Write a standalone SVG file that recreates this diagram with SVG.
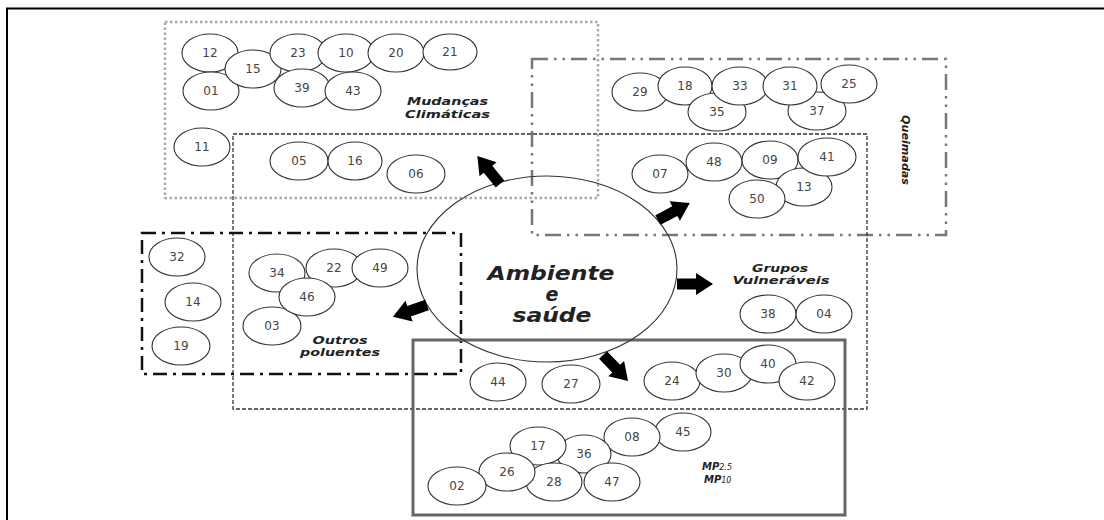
<svg xmlns="http://www.w3.org/2000/svg" width="1104" height="520" viewBox="0 0 1104 520">
<style>
.node ellipse{fill:#fff;stroke:#333;stroke-width:1.1}
.node text{font-family:"DejaVu Sans",Verdana,sans-serif;font-size:12px;fill:#444;text-anchor:middle;dominant-baseline:central}
.lbl{font-family:"DejaVu Sans",Verdana,sans-serif;font-weight:bold;font-style:italic;fill:#222}
.box{fill:none}
</style>
<defs>
<polygon id="arr" points="0,-5.5 19,-5.5 19,-11 36,0 19,11 19,5.5 0,5.5" fill="#000"/>
</defs>
<rect x="0" y="0" width="1104" height="520" fill="#fff"/>
<path d="M7 520 V8.5 H1104" fill="none" stroke="#000" stroke-width="2"/>

<g id="boxes">
<rect id="box-mudancas" class="box" x="165" y="22" width="433" height="176" stroke="#aaa" stroke-width="2.5" stroke-dasharray="2.5 2.5"/>
<rect id="box-queimadas" class="box" x="532" y="59" width="414" height="176" stroke="#777" stroke-width="2.5" stroke-dasharray="16 6 2.5 6 2.5 6"/>
<rect id="box-grupos" class="box" x="233" y="134" width="634" height="275" stroke="#333" stroke-width="1.3" stroke-dasharray="4 2"/>
<rect id="box-outros" class="box" x="142" y="233" width="319" height="141" stroke="#111" stroke-width="2.5" stroke-dasharray="14 6 3 6"/>
<rect id="box-mp" class="box" x="413" y="340" width="432" height="175" stroke="#666" stroke-width="3"/>
</g>

<g id="center">
<ellipse cx="547" cy="269" rx="130" ry="93" fill="none" stroke="#333" stroke-width="1.1"/>
<text class="lbl" x="551" y="280" font-size="19" text-anchor="middle" textLength="127" lengthAdjust="spacingAndGlyphs">Ambiente</text>
<text class="lbl" x="552" y="301" font-size="19" text-anchor="middle">e</text>
<text class="lbl" x="552" y="322" font-size="19" text-anchor="middle" textLength="79" lengthAdjust="spacingAndGlyphs">saúde</text>
</g>

<g id="labels">
<text class="lbl" x="407" y="105" font-size="11" textLength="81" lengthAdjust="spacingAndGlyphs">Mudanças</text>
<text class="lbl" x="405" y="118" font-size="11" textLength="85" lengthAdjust="spacingAndGlyphs">Climáticas</text>
<text class="lbl" font-size="10" text-anchor="middle" transform="translate(902,150) rotate(90)" textLength="70" lengthAdjust="spacingAndGlyphs">Queimadas</text>
<text class="lbl" x="780" y="272" font-size="10" text-anchor="middle" textLength="56" lengthAdjust="spacingAndGlyphs">Grupos</text>
<text class="lbl" x="781" y="284" font-size="10" text-anchor="middle" textLength="97" lengthAdjust="spacingAndGlyphs">Vulneráveis</text>
<text class="lbl" x="340" y="344" font-size="11" text-anchor="middle" textLength="55" lengthAdjust="spacingAndGlyphs">Outros</text>
<text class="lbl" x="340" y="356" font-size="11" text-anchor="middle" textLength="80" lengthAdjust="spacingAndGlyphs">poluentes</text>
<text class="lbl" x="702" y="470" font-size="10">MP<tspan font-size="8" font-weight="normal">2.5</tspan></text>
<text class="lbl" x="704" y="483" font-size="10">MP<tspan font-size="8" font-weight="normal">10</tspan></text>
</g>

<g id="connectors">
<use href="#arr" transform="translate(500,184) rotate(-129)"/>
<use href="#arr" transform="translate(658,220) rotate(-28)"/>
<use href="#arr" transform="translate(677,284)"/>
<use href="#arr" transform="translate(603,355) rotate(46)"/>
<use href="#arr" transform="translate(427,305) rotate(161)"/>
</g>

<g id="n12" class="node"><ellipse cx="210" cy="53" rx="28" ry="19"/><text x="210" y="53">12</text></g>
<g id="n01" class="node"><ellipse cx="211" cy="91" rx="28" ry="19"/><text x="211" y="91">01</text></g>
<g id="n15" class="node"><ellipse cx="253" cy="69" rx="28" ry="19"/><text x="253" y="69">15</text></g>
<g id="n23" class="node"><ellipse cx="298" cy="53" rx="28" ry="19"/><text x="298" y="53">23</text></g>
<g id="n10" class="node"><ellipse cx="346" cy="53" rx="28" ry="19"/><text x="346" y="53">10</text></g>
<g id="n20" class="node"><ellipse cx="396" cy="53" rx="28" ry="19"/><text x="396" y="53">20</text></g>
<g id="n21" class="node"><ellipse cx="450" cy="52" rx="27" ry="18"/><text x="450" y="52">21</text></g>
<g id="n39" class="node"><ellipse cx="302" cy="88" rx="28" ry="19"/><text x="302" y="88">39</text></g>
<g id="n43" class="node"><ellipse cx="353" cy="91" rx="28" ry="19"/><text x="353" y="91">43</text></g>
<g id="n11" class="node"><ellipse cx="202" cy="147" rx="28" ry="19"/><text x="202" y="147">11</text></g>
<g id="n05" class="node"><ellipse cx="299" cy="161" rx="29" ry="19"/><text x="299" y="161">05</text></g>
<g id="n16" class="node"><ellipse cx="355" cy="161" rx="27" ry="19"/><text x="355" y="161">16</text></g>
<g id="n06" class="node"><ellipse cx="416" cy="174" rx="29" ry="19"/><text x="416" y="174">06</text></g>

<g id="n29" class="node"><ellipse cx="640" cy="92" rx="28" ry="19"/><text x="640" y="92">29</text></g>
<g id="n18" class="node"><ellipse cx="685" cy="86" rx="27" ry="19"/><text x="685" y="86">18</text></g>
<g id="n35" class="node"><ellipse cx="717" cy="112" rx="29" ry="19"/><text x="717" y="112">35</text></g>
<g id="n33" class="node"><ellipse cx="740" cy="86" rx="28" ry="19"/><text x="740" y="86">33</text></g>
<g id="n37" class="node"><ellipse cx="817" cy="111" rx="29" ry="19"/><text x="817" y="111">37</text></g>
<g id="n31" class="node"><ellipse cx="790" cy="86" rx="27" ry="19"/><text x="790" y="86">31</text></g>
<g id="n25" class="node"><ellipse cx="849" cy="84" rx="28" ry="19"/><text x="849" y="84">25</text></g>

<g id="n07" class="node"><ellipse cx="660" cy="174" rx="28" ry="19"/><text x="660" y="174">07</text></g>
<g id="n48" class="node"><ellipse cx="714" cy="162" rx="28" ry="19"/><text x="714" y="162">48</text></g>
<g id="n09" class="node"><ellipse cx="770" cy="160" rx="28" ry="19"/><text x="770" y="160">09</text></g>
<g id="n13" class="node"><ellipse cx="804" cy="187" rx="28" ry="19"/><text x="804" y="187">13</text></g>
<g id="n41" class="node"><ellipse cx="827" cy="157" rx="29" ry="19"/><text x="827" y="157">41</text></g>
<g id="n50" class="node"><ellipse cx="757" cy="199" rx="28" ry="19"/><text x="757" y="199">50</text></g>

<g id="n32" class="node"><ellipse cx="177" cy="257" rx="28" ry="19"/><text x="177" y="257">32</text></g>
<g id="n14" class="node"><ellipse cx="193" cy="302" rx="28" ry="19"/><text x="193" y="302">14</text></g>
<g id="n19" class="node"><ellipse cx="181" cy="346" rx="29" ry="19"/><text x="181" y="346">19</text></g>
<g id="n34" class="node"><ellipse cx="277" cy="273" rx="28" ry="19"/><text x="277" y="273">34</text></g>
<g id="n22" class="node"><ellipse cx="334" cy="268" rx="28" ry="19"/><text x="334" y="268">22</text></g>
<g id="n49" class="node"><ellipse cx="380" cy="268" rx="28" ry="19"/><text x="380" y="268">49</text></g>
<g id="n03" class="node"><ellipse cx="272" cy="326" rx="29" ry="19"/><text x="272" y="326">03</text></g>
<g id="n46" class="node"><ellipse cx="307" cy="297" rx="28" ry="19"/><text x="307" y="297">46</text></g>

<g id="n38" class="node"><ellipse cx="768" cy="314" rx="28" ry="19"/><text x="768" y="314">38</text></g>
<g id="n04" class="node"><ellipse cx="824" cy="314" rx="28" ry="19"/><text x="824" y="314">04</text></g>

<g id="n44" class="node"><ellipse cx="498" cy="382" rx="28" ry="19"/><text x="498" y="382">44</text></g>
<g id="n27" class="node"><ellipse cx="571" cy="384" rx="29" ry="19"/><text x="571" y="384">27</text></g>
<g id="n24" class="node"><ellipse cx="672" cy="381" rx="28" ry="19"/><text x="672" y="381">24</text></g>
<g id="n30" class="node"><ellipse cx="724" cy="373" rx="28" ry="19"/><text x="724" y="373">30</text></g>
<g id="n40" class="node"><ellipse cx="768" cy="364" rx="28" ry="19"/><text x="768" y="364">40</text></g>
<g id="n42" class="node"><ellipse cx="807" cy="381" rx="28" ry="19"/><text x="807" y="381">42</text></g>

<g id="n45" class="node"><ellipse cx="683" cy="432" rx="28" ry="19"/><text x="683" y="432">45</text></g>
<g id="n08" class="node"><ellipse cx="632" cy="437" rx="28" ry="19"/><text x="632" y="437">08</text></g>
<g id="n36" class="node"><ellipse cx="584" cy="454" rx="27" ry="19"/><text x="584" y="454">36</text></g>
<g id="n17" class="node"><ellipse cx="538" cy="446" rx="28" ry="19"/><text x="538" y="446">17</text></g>
<g id="n47" class="node"><ellipse cx="612" cy="482" rx="28" ry="19"/><text x="612" y="482">47</text></g>
<g id="n28" class="node"><ellipse cx="554" cy="482" rx="28" ry="19"/><text x="554" y="482">28</text></g>
<g id="n26" class="node"><ellipse cx="507" cy="472" rx="28" ry="19"/><text x="507" y="472">26</text></g>
<g id="n02" class="node"><ellipse cx="457" cy="486" rx="29" ry="19"/><text x="457" y="486">02</text></g>
</svg>
